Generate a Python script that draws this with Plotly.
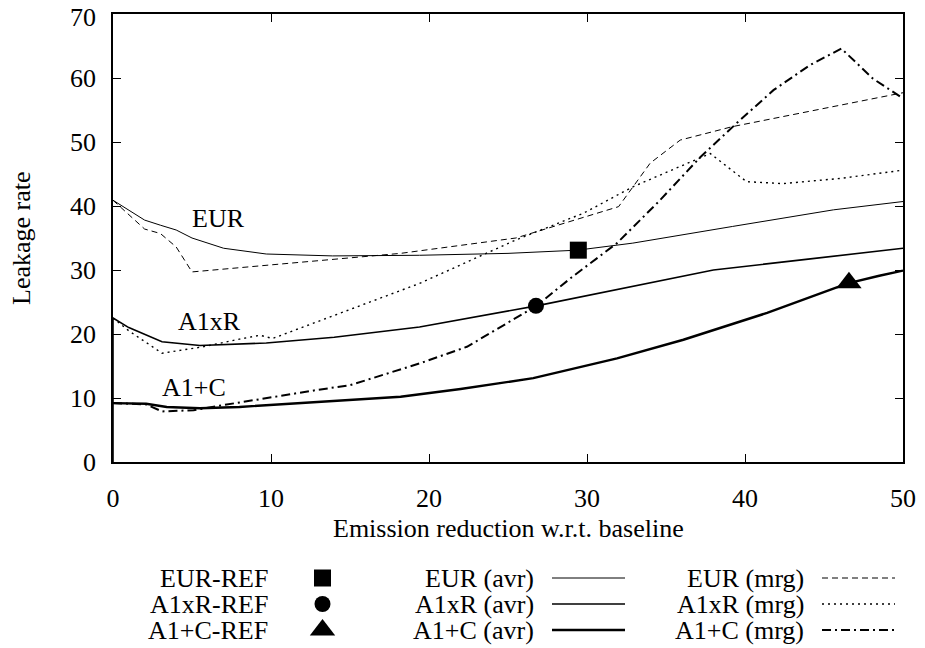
import plotly.graph_objects as go

# ---------------- data ----------------
eur_avr_x = [0, 2, 3, 4, 5, 7, 9.7, 13.9, 19.4, 25, 29.4, 32.9, 39.2, 45.6, 50]
eur_avr_y = [40.9, 37.8, 37.0, 36.25, 35.0, 33.4, 32.5, 32.2, 32.3, 32.6, 33.1, 34.2, 36.8, 39.4, 40.7]

eur_mrg_x = [0, 2, 3, 4, 5, 18.2, 25.5, 32, 34, 35.9, 39.2, 50]
eur_mrg_y = [40.9, 36.4, 35.7, 33.6, 29.7, 32.6, 35.0, 39.9, 46.7, 50.3, 52.4, 57.7]

a1xr_avr_x = [0, 0, 1, 3.1, 5.5, 9.7, 14, 19.4, 26.8, 32, 38, 44, 50]
a1xr_avr_y = [0, 22.5, 21.0, 18.8, 18.2, 18.6, 19.5, 21.1, 24.4, 27.0, 30.0, 31.7, 33.4]

a1xr_mrg_x = [0, 1, 3.1, 5.7, 8, 9.3, 10.1, 14, 19.4, 25.5, 29.8, 32.9, 37.8, 40.1, 42.4, 46, 50]
a1xr_mrg_y = [22.5, 20.5, 17.0, 18.0, 19.2, 19.8, 19.3, 22.9, 27.9, 34.7, 38.9, 43.0, 48.2, 43.8, 43.5, 44.3, 45.6]

a1c_avr_x = [0, 2.1, 3.4, 5.5, 8, 11.8, 15, 18.2, 22, 26.6, 31.9, 36.1, 41.4, 46.5, 48.5, 50]
a1c_avr_y = [9.2, 9.1, 8.6, 8.4, 8.6, 9.2, 9.7, 10.2, 11.4, 13.1, 16.2, 19.1, 23.3, 27.9, 29.1, 29.9]

a1c_mrg_x = [0, 2.1, 3.1, 5.1, 7, 9.7, 12.9, 15, 17, 19.4, 22.4, 26.8, 29, 31.9, 34.5, 37.2, 39.5, 41.8, 44.1, 46.1, 48.1, 50]
a1c_mrg_y = [9.2, 9.0, 7.9, 8.1, 8.9, 10.0, 11.25, 12.0, 13.5, 15.4, 18.0, 24.4, 28.8, 34.2, 40.6, 47.7, 53.0, 58.1, 62.0, 64.6, 59.9, 56.8]

ref_names = ["EUR-REF", "A1xR-REF", "A1+C-REF"]
ref_x = [29.45, 26.77, 46.58]
ref_y = [33.1, 24.4, 28.0]
ref_symbols = ["square", "circle", "triangle-up"]
ref_sizes = [17, 16, 22]

avr_names = ["EUR (avr)", "A1xR (avr)", "A1+C (avr)"]
mrg_names = ["EUR (mrg)", "A1xR (mrg)", "A1+C (mrg)"]

curve_labels = ["EUR", "A1xR", "A1+C"]
curve_label_x = [6.65, 6.08, 5.1]
curve_label_y = [38.0, 21.9, 11.7]

x_ticks = [0, 10, 20, 30, 40, 50]
y_ticks = [0, 10, 20, 30, 40, 50, 60, 70]
y_tick_labels = ["0", "10", "20", "30", "40", "50", "60", "70"]

# ---------------- styles ----------------
FONT = "Liberation Serif, DejaVu Serif, Times New Roman, serif"
FS = 26
avr_styles = [dict(width=1.0, dash="solid"), dict(width=1.6, dash="solid"), dict(width=2.4, dash="solid")]
mrg_styles = [dict(width=1.0, dash="6px,4px"), dict(width=1.4, dash="2px,4px"), dict(width=2.0, dash="9px,4px,2px,4px")]

avr_data = [(eur_avr_x, eur_avr_y), (a1xr_avr_x, a1xr_avr_y), (a1c_avr_x, a1c_avr_y)]
mrg_data = [(eur_mrg_x, eur_mrg_y), (a1xr_mrg_x, a1xr_mrg_y), (a1c_mrg_x, a1c_mrg_y)]

fig = go.Figure()

for (xs, ys), st, nm in zip(avr_data, avr_styles, avr_names):
    fig.add_trace(go.Scatter(x=xs, y=ys, mode="lines", name=nm,
                             line=dict(color="black", width=st["width"], dash=st["dash"]),
                             showlegend=False, xaxis="x", yaxis="y"))
for (xs, ys), st, nm in zip(mrg_data, mrg_styles, mrg_names):
    fig.add_trace(go.Scatter(x=xs, y=ys, mode="lines", name=nm,
                             line=dict(color="black", width=st["width"], dash=st["dash"]),
                             showlegend=False, xaxis="x", yaxis="y"))
for i in range(3):
    fig.add_trace(go.Scatter(x=[ref_x[i]], y=[ref_y[i]], mode="markers", name=ref_names[i],
                             marker=dict(symbol=ref_symbols[i], size=ref_sizes[i], color="black"),
                             showlegend=False, xaxis="x", yaxis="y", cliponaxis=False))

# ---------------- layout geometry (page has an 8px body margin) ----------------
BODY = 8
PAGE_W, PAGE_H = 925, 648
W, H = PAGE_W - 2 * BODY, PAGE_H - BODY
AX_L, AX_R, AX_T, AX_B = 113, 903, 14, 462          # plot frame in page pixels
ML, MR, MT, MB = AX_L - BODY, W - (AX_R - BODY), AX_T - BODY, 0
plot_h = H - MT - MB
main_bottom = (H - MB - (AX_B - BODY)) / plot_h
LEG_TOP = 565 - BODY
ROW_H = 26.0
leg_top = (H - MB - LEG_TOP) / plot_h
leg_bottom = 0.0
leg_rows_span = (H - MB - LEG_TOP) / ROW_H

# ---------------- custom legend (second axes) ----------------
col_text_right = [270, 536, 806]
samp_start, samp_end = 16, 89
annotations = []
lf = dict(family=FONT, size=FS, color="black")
for row in range(3):
    cx = col_text_right[0] + (samp_start + samp_end) / 2
    fig.add_trace(go.Scatter(x=[cx], y=[row], mode="markers",
                             marker=dict(symbol=ref_symbols[row], size=ref_sizes[row], color="black"),
                             showlegend=False, xaxis="x2", yaxis="y2", cliponaxis=False))
    annotations.append(dict(x=col_text_right[0], y=row, xref="x2", yref="y2", text=ref_names[row],
                            showarrow=False, xanchor="right", yanchor="middle", font=lf))
    x0 = col_text_right[1]
    fig.add_trace(go.Scatter(x=[x0 + samp_start, x0 + samp_end], y=[row, row], mode="lines",
                             line=dict(color="black", width=avr_styles[row]["width"], dash=avr_styles[row]["dash"]),
                             showlegend=False, xaxis="x2", yaxis="y2"))
    annotations.append(dict(x=x0, y=row, xref="x2", yref="y2", text=avr_names[row],
                            showarrow=False, xanchor="right", yanchor="middle", font=lf))
    x0 = col_text_right[2]
    fig.add_trace(go.Scatter(x=[x0 + samp_start, x0 + samp_end], y=[row, row], mode="lines",
                             line=dict(color="black", width=mrg_styles[row]["width"], dash=mrg_styles[row]["dash"]),
                             showlegend=False, xaxis="x2", yaxis="y2"))
    annotations.append(dict(x=x0, y=row, xref="x2", yref="y2", text=mrg_names[row],
                            showarrow=False, xanchor="right", yanchor="middle", font=lf))

for t, lx, ly in zip(curve_labels, curve_label_x, curve_label_y):
    annotations.append(dict(x=lx, y=ly, xref="x", yref="y", text=t, showarrow=False,
                            xanchor="center", yanchor="middle", font=lf))

# y tick labels (placed on the y scale; the top one nudged so it is not cut by the page edge)
for v, t in zip(y_ticks, y_tick_labels):
    annotations.append(dict(x=(98 - AX_L) / (AX_R - AX_L), y=v, xref="paper", yref="y", text=t,
                            showarrow=False, xanchor="right", yanchor="middle",
                            yshift=(-3 if v == max(y_ticks) else 0), font=lf))

annotations.append(dict(x=(21 - AX_L) / (AX_R - AX_L), y=0.5, xref="paper", yref="y domain",
                        text="Leakage rate", textangle=-90, showarrow=False,
                        xanchor="center", yanchor="middle", font=lf))
annotations.append(dict(x=0.5, y=(AX_B - 528) / (AX_B - AX_T), xref="x domain", yref="y domain",
                        text="Emission reduction w.r.t. baseline", showarrow=False,
                        xanchor="center", yanchor="middle", font=lf))

fig.update_layout(
    width=W, height=H, autosize=False,
    margin=dict(l=ML, r=MR, t=MT, b=MB, pad=0, autoexpand=False),
    paper_bgcolor="white", plot_bgcolor="white",
    font=lf,
    showlegend=False,
    xaxis=dict(range=[0, 50], tickvals=x_ticks, ticks="inside", ticklen=8, tickwidth=1.2,
               tickcolor="black", showline=True, linecolor="black", linewidth=1.5, mirror="ticks",
               showgrid=False, zeroline=False, domain=[0, 1], anchor="y", automargin=False,
               tickfont=lf, ticklabelstandoff=12, ticklabeloverflow="allow"),
    yaxis=dict(range=[0, 70], tickvals=y_ticks, ticks="inside", ticklen=8, tickwidth=1.2,
               tickcolor="black", showline=True, linecolor="black", linewidth=1.5, mirror="ticks",
               showgrid=False, zeroline=False, domain=[main_bottom, 1], anchor="x", automargin=False,
               showticklabels=False),
    xaxis2=dict(range=[AX_L, AX_R], domain=[0, 1], anchor="y2", visible=False, fixedrange=True,
                automargin=False),
    yaxis2=dict(range=[leg_rows_span - 0.5, -0.5], domain=[leg_bottom, leg_top], anchor="x2",
                visible=False, fixedrange=True, automargin=False),
    annotations=annotations,
)

fig.write_html("out.html")
